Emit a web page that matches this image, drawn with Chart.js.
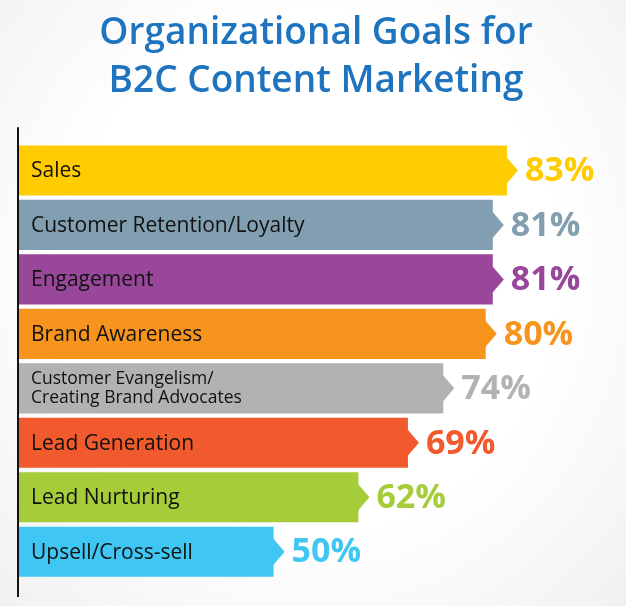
<!DOCTYPE html>
<html>
<head>
<meta charset="utf-8">
<script src="https://cdn.jsdelivr.net/npm/chart.js@4"></script>
<style>
  html, body { margin: 0; padding: 0; }
  body {
    width: 626px; height: 606px; overflow: hidden;
    background: radial-gradient(ellipse at 50% 45%, #ffffff 55%, #f1f1f1 100%);
  }
  #wrap { width: 626px; height: 606px; position: relative; }
</style>
</head>
<body>
<div id="wrap"><canvas id="goals"></canvas></div>
<script>
const categories = [
    'Sales',
    'Customer Retention/Loyalty',
    'Engagement',
    'Brand Awareness',
    ['Customer Evangelism/', 'Creating Brand Advocates'],
    'Lead Generation',
    'Lead Nurturing',
    'Upsell/Cross-sell'
];
const percents = [83, 81, 81, 80, 74, 69, 62, 50];
const barColors = ['#FFCC00', '#819FB0', '#98479A', '#F7941E', '#B0B2B4', '#F15A2C', '#A5CD39', '#40C6F2'];
const titleLines = ['Organizational Goals for', 'B2C Content Marketing'];

// bars start a bit above zero in the original artwork
const axisMin = 14;
const axisMax = 98;

const fontName = '"Open Sans", sans-serif';

const barDecor = {
    id: 'barDecor',
    beforeDatasetsDraw(chart) {
        const ctx = chart.ctx;
        const area = chart.chartArea;
        ctx.save();
        ctx.strokeStyle = '#111';
        ctx.lineWidth = 2;
        ctx.beginPath();
        ctx.moveTo(area.left - 1, area.top - 16);
        ctx.lineTo(area.left - 1, area.bottom + 18);
        ctx.stroke();
        ctx.restore();
    },
    afterDatasetsDraw(chart) {
        const ctx = chart.ctx;
        const area = chart.chartArea;
        const meta = chart.getDatasetMeta(0);
        ctx.save();
        meta.data.forEach((bar, i) => {
            // arrow tip
            ctx.fillStyle = barColors[i];
            ctx.beginPath();
            ctx.moveTo(bar.x - 1, bar.y - 14);
            ctx.lineTo(bar.x + 11, bar.y);
            ctx.lineTo(bar.x - 1, bar.y + 14);
            ctx.closePath();
            ctx.fill();

            // category label inside bar
            ctx.fillStyle = '#111';
            ctx.textAlign = 'left';
            ctx.textBaseline = 'middle';
            const lab = categories[i];
            if (Array.isArray(lab)) {
                ctx.font = '17.5px ' + fontName;
                ctx.fillText(lab[0], area.left + 12, bar.y - 9);
                ctx.fillText(lab[1], area.left + 12, bar.y + 10);
            } else {
                ctx.font = '21px ' + fontName;
                ctx.fillText(lab, area.left + 12, bar.y + 1);
            }

            // value label
            ctx.fillStyle = barColors[i];
            ctx.font = 'bold 34px ' + fontName;
            ctx.fillText(percents[i] + '%', bar.x + 18, bar.y + 1);
        });
        ctx.restore();
    }
};

new Chart(document.getElementById('goals'), {
    type: 'bar',
    data: {
        labels: categories,
        datasets: [{
            data: percents,
            base: axisMin,
            backgroundColor: barColors,
            borderWidth: 0,
            barPercentage: 0.92,
            categoryPercentage: 1
        }]
    },
    options: {
        indexAxis: 'y',
        responsive: true,
        maintainAspectRatio: false,
        animation: false,
        layout: { padding: { left: 19, right: 13, top: 0, bottom: 27 } },
        scales: {
            x: { min: axisMin, max: axisMax, display: false },
            y: { display: false }
        },
        plugins: {
            legend: { display: false },
            tooltip: { enabled: false },
            title: {
                display: true,
                text: titleLines,
                color: '#1E74BE',
                font: { family: fontName, size: 37, weight: '600', lineHeight: 1.3 },
                padding: { top: 9, bottom: 38 }
            }
        }
    },
    plugins: [barDecor]
});
</script>
</body>
</html>
